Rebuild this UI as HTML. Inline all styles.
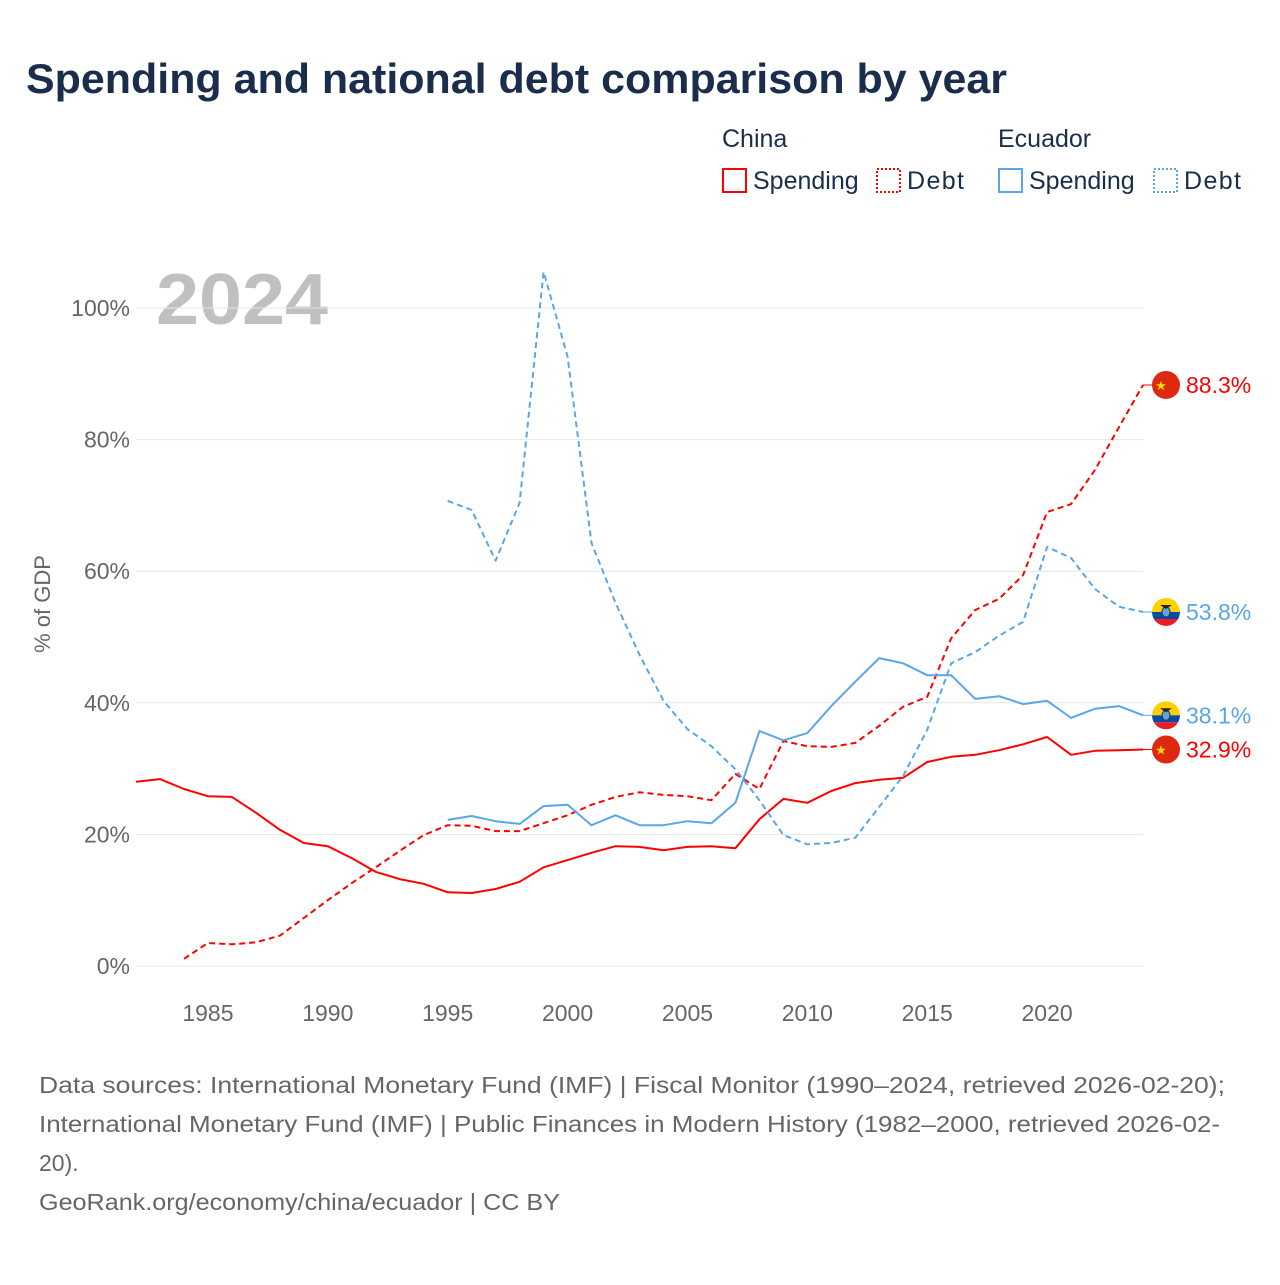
<!DOCTYPE html>
<html><head><meta charset="utf-8"><style>
body{margin:0;background:#fff;font-family:"Liberation Sans",sans-serif}
</style></head><body>
<svg id="c" width="1280" height="1280" xmlns="http://www.w3.org/2000/svg">
<text x="26" y="93" font-size="42" font-weight="bold" fill="#1a2e4c" textLength="981" lengthAdjust="spacingAndGlyphs">Spending and national debt comparison by year</text>
<g font-size="25" fill="#1a2e4c">
<text x="722" y="147">China</text>
<text x="998" y="147">Ecuador</text>
<g><rect x="723" y="169" width="23" height="23" fill="none" stroke="#f00" stroke-width="2"/><text x="753" y="189">Spending</text></g>
<g><rect x="877" y="169" width="23" height="23" fill="none" stroke="#f00" stroke-width="2" stroke-dasharray="2,2"/><text x="907" y="189" textLength="57">Debt</text></g>
<g><rect x="999" y="169" width="23" height="23" fill="none" stroke="#5aa6e8" stroke-width="2"/><text x="1029" y="189">Spending</text></g>
<g><rect x="1154" y="169" width="23" height="23" fill="none" stroke="#5aa6e8" stroke-width="2" stroke-dasharray="2,2"/><text x="1184" y="189" textLength="57">Debt</text></g>
</g>
<text x="156" y="324" font-size="72" font-weight="bold" fill="#c0c0c0" textLength="172" lengthAdjust="spacingAndGlyphs">2024</text>
<text transform="translate(50,604) rotate(-90)" text-anchor="middle" font-size="22" fill="#666">% of GDP</text>
<g id="grid"></g><g id="lines"></g><g id="ends"></g>
<g font-size="23" fill="#666">
<text x="39" y="1093" textLength="1186" lengthAdjust="spacingAndGlyphs">Data sources: International Monetary Fund (IMF) | Fiscal Monitor (1990–2024, retrieved 2026-02-20);</text>
<text x="39" y="1132" textLength="1181" lengthAdjust="spacingAndGlyphs">International Monetary Fund (IMF) | Public Finances in Modern History (1982–2000, retrieved 2026-02-</text>
<text x="39" y="1171">20).</text>
<text x="39" y="1210" textLength="521" lengthAdjust="spacingAndGlyphs">GeoRank.org/economy/china/ecuador | CC BY</text>
</g>
</svg>
<script>
const yTicks=[0,20,40,60,80,100];
const xTicks=[1985,1990,1995,2000,2005,2010,2015,2020];
const chinaSpendStart=1982;
const chinaSpend=[28.0,28.4,26.9,25.8,25.7,23.3,20.7,18.7,18.2,16.4,14.3,13.2,12.5,11.2,11.1,11.7,12.8,15.0,16.1,17.2,18.2,18.1,17.6,18.1,18.2,17.9,22.3,25.4,24.8,26.6,27.8,28.3,28.6,31.0,31.8,32.1,32.8,33.7,34.8,32.1,32.7,32.8,32.9];
const chinaDebtStart=1984;
const chinaDebt=[1.1,3.5,3.3,3.6,4.6,7.3,10.0,12.6,15.0,17.5,19.9,21.4,21.3,20.5,20.5,21.7,22.9,24.5,25.7,26.4,26.0,25.8,25.2,29.2,26.9,34.2,33.4,33.3,33.9,36.5,39.4,40.9,49.8,54.1,55.8,59.4,69.0,70.2,75.4,81.9,88.3];
const ecuSpendStart=1995;
const ecuSpend=[22.2,22.8,22.0,21.6,24.3,24.5,21.4,22.9,21.4,21.4,22.0,21.7,24.8,35.7,34.3,35.4,39.5,43.2,46.8,46.0,44.2,44.2,40.6,41.0,39.8,40.3,37.7,39.1,39.5,38.1];
const ecuDebtStart=1995;
const ecuDebt=[70.7,69.3,61.6,70.4,105.5,92.6,64.3,55.2,47.3,40.3,36.0,33.4,29.9,25.2,19.9,18.5,18.7,19.5,24.2,28.9,35.9,46.0,47.7,50.2,52.3,63.7,62.0,57.3,54.6,53.8];
const X=y=>136+(y-1982)*23.976;
const Y=v=>966-v*6.58;
const NS="http://www.w3.org/2000/svg";
function mk(t,a,p){const e=document.createElementNS(NS,t);for(const k in a)e.setAttribute(k,a[k]);p.appendChild(e);return e;}
const grid=document.getElementById('grid');
yTicks.forEach(v=>{
  const l=mk('line',{x1:136,x2:1143,y1:Y(v),y2:Y(v),stroke:'#e6e6e6','stroke-width':1},grid);
  
  
  const t=mk('text',{x:130,y:Y(v)+8,'text-anchor':'end','font-size':23,fill:'#666'},grid);
  t.textContent=v+'%';
  
  
});
xTicks.forEach(v=>{
  const t=mk('text',{x:X(v),y:1021,'text-anchor':'middle','font-size':23,fill:'#666'},grid);
  t.textContent=v;
  
  
});
const lines=document.getElementById('lines');
function series(arr,start,color,dash,name){
  const pts=arr.map((v,i)=>X(start+i).toFixed(1)+','+Y(v).toFixed(1)).join(' ');
  const p=mk('polyline',{points:pts,fill:'none',stroke:color,'stroke-width':2,'stroke-dasharray':dash,'stroke-linejoin':'round'},lines);
  
  
}
series(chinaSpend,chinaSpendStart,'#f00','none','china-spending-line');
series(chinaDebt,chinaDebtStart,'#f00','6,4','china-debt-line');
series(ecuSpend,ecuSpendStart,'#5aa6e8','none','ecuador-spending-line');
series(ecuDebt,ecuDebtStart,'#5aa6e8','6,4','ecuador-debt-line');
const ends=document.getElementById('ends');
function endLabel(arr,start,color,flag,name){
  const v=arr[arr.length-1];const y=Y(v);const x0=X(start+arr.length-1);
  mk('line',{x1:x0,x2:1152,y1:y,y2:y,stroke:color,'stroke-width':1},ends);
  const g=mk('g',{},ends);
  
  
  if(flag==='cn'){
    mk('circle',{cx:1166,cy:y,r:14,fill:'#de2910'},g);
    const s=mk('text',{x:1161,y:y+5,'text-anchor':'middle','font-size':13,fill:'#ffde00'},g);s.textContent='★';
  }else{
    mk('clipPath',{id:'cp'+name},g);
    const cp=g.lastChild;mk('circle',{cx:1166,cy:y,r:14},cp);
    const gg=mk('g',{'clip-path':'url(#cp'+name+')'},g);
    mk('rect',{x:1152,y:y-14,width:28,height:14,fill:'#ffd100'},gg);
    mk('rect',{x:1152,y:y,width:28,height:7,fill:'#034ea2'},gg);
    mk('rect',{x:1152,y:y+7,width:28,height:7,fill:'#ed1c24'},gg);
    mk('ellipse',{cx:1166,cy:y,rx:4,ry:5,fill:'#5aa6e8',stroke:'#333','stroke-width':1},gg);
    mk('path',{d:`M1160 ${y-7} L1172 ${y-7} L1166 ${y-3} Z`,fill:'#222'},gg);
  }
  const t=mk('text',{x:1186,y:y+8,'font-size':23,fill:color},ends);
  t.textContent=v.toFixed(1)+'%';
  
  
}
endLabel(chinaDebt,chinaDebtStart,'#f00','cn','china-debt');
endLabel(ecuDebt,ecuDebtStart,'#5aa6e8','ec','ecuador-debt');
endLabel(ecuSpend,ecuSpendStart,'#5aa6e8','ec','ecuador-spending');
endLabel(chinaSpend,chinaSpendStart,'#f00','cn','china-spending');
</script>
</body></html>
